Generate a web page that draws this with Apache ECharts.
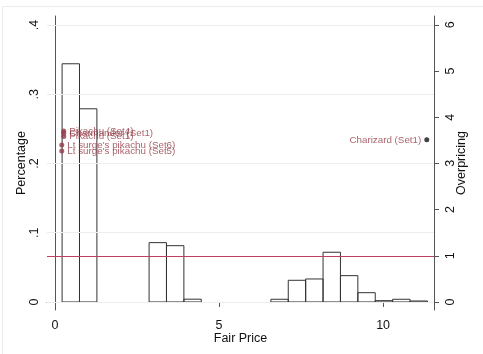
<!DOCTYPE html>
<html>
<head>
    <meta charset="utf-8">
    <title>Fair Price</title>
    <script src="https://cdn.jsdelivr.net/npm/echarts@6/dist/echarts.min.js"></script>
    <style type="text/css">
        body { margin: 0; background: #fff; }
        #main { width: 483px; height: 354px; }
    </style>
</head>
<body>
    <div id="main"></div>

    <script type="text/javascript">
        // histogram of fair price (percent per bin)
        var binWidth = 0.53;
        var binLeft = [0.22, 0.75, 2.87, 3.40, 3.93, 6.58, 7.11, 7.64, 8.17, 8.70, 9.23, 9.76, 10.29, 10.82];
        var binPct  = [0.344, 0.279, 0.0857, 0.0813, 0.004, 0.0039, 0.0313, 0.0332, 0.0718, 0.038, 0.0134, 0.0019, 0.0039, 0.0014];

        // overpricing points
        var ptNames = ['Pikachu (Set4)', 'Charmander (Set1)', 'Pikachu (Set1)', "Lt surge's pikachu (Set6)", "Lt surge's pikachu (Set5)", 'Charizard (Set1)'];
        var ptX = [0.27, 0.27, 0.27, 0.21, 0.21, 11.33];
        var ptY = [3.70, 3.65, 3.58, 3.40, 3.27, 3.51];

        var pctTicks = [0, 0.1, 0.2, 0.3, 0.4];
        var pctLabels = ['0', '.1', '.2', '.3', '.4'];
        var overTicks = [0, 1, 2, 3, 4, 5, 6];
        var xTicks = [0, 5, 10];
        var refLine = 1;

        var font = 'Liberation Sans, Arial, sans-serif';
        var red = '#923a45';
        var lineRed = '#c23d62';

        var histData = [];
        for (var i = 0; i < binLeft.length; i++) {
            histData.push([binLeft[i], binLeft[i] + binWidth, binPct[i]]);
        }
        var ptData = [];
        for (var j = 0; j < ptNames.length; j++) {
            ptData.push({
                name: ptNames[j],
                value: [ptX[j], ptY[j]],
                itemStyle: { color: j == 5 ? '#111' : red },
                label: { position: j == 5 ? 'left' : 'right' }
            });
        }

        var chart = echarts.init(document.getElementById('main'));

        var axisLine = { show: true, lineStyle: { color: '#555', width: 1 } };

        var option = {
            animation: false,
            textStyle: { fontFamily: font },
            graphic: [{
                type: 'rect', left: 0, top: 4,
                shape: { width: 482, height: 349 },
                style: { fill: 'none', stroke: '#ececec', lineWidth: 1 },
                silent: true
            }],
            grid: { left: 47, right: 49, top: 16, bottom: 44 },
            xAxis: {
                type: 'value', min: -0.24, max: 11.55,
                axisLine: axisLine,
                axisTick: { show: true, length: 5, customValues: xTicks, lineStyle: { color: '#555' } },
                axisLabel: { customValues: xTicks, fontSize: 12.5, color: '#111', margin: 9 },
                splitLine: { show: false },
                name: 'Fair Price', nameLocation: 'middle', nameGap: 22, nameMoveOverlap: false,
                nameTextStyle: { fontSize: 12.5, color: '#111' }
            },
            yAxis: [{
                type: 'value', min: -0.0116, max: 0.413,
                axisLine: axisLine,
                axisTick: { show: true, length: 5, customValues: pctTicks, lineStyle: { color: '#555' } },
                axisLabel: {
                    customValues: pctTicks, rotate: 90, fontSize: 12.5, color: '#111', margin: 6,
                    formatter: function (v) {
                        var k = pctTicks.indexOf(Math.round(v * 10) / 10);
                        return k >= 0 ? pctLabels[k] : '';
                    }
                },
                splitLine: { show: false },
                name: 'Percentage', nameLocation: 'middle', nameRotate: 90, nameGap: 19, nameMoveOverlap: false,
                nameTextStyle: { fontSize: 12.5, color: '#111' }
            }, {
                type: 'value', min: -0.173, max: 6.19, position: 'right',
                axisLine: axisLine,
                axisTick: { show: true, length: 5, customValues: overTicks, lineStyle: { color: '#555' } },
                axisLabel: { customValues: overTicks, rotate: 90, fontSize: 12.5, color: '#111', margin: 10 },
                splitLine: { show: false },
                name: 'Overpricing', nameLocation: 'middle', nameRotate: 90, nameGap: 21, nameMoveOverlap: false,
                nameTextStyle: { fontSize: 12.5, color: '#111' }
            }],
            series: [{
                type: 'custom',
                data: histData,
                encode: { x: [0, 1], y: 2 },
                renderItem: function (params, api) {
                    var p0 = api.coord([api.value(0), 0]);
                    var p1 = api.coord([api.value(1), api.value(2)]);
                    return {
                        type: 'rect',
                        shape: { x: p0[0], y: p1[1], width: p1[0] - p0[0], height: p0[1] - p1[1] },
                        style: { fill: 'none', stroke: '#333', lineWidth: 1 }
                    };
                },
                markLine: {
                    silent: true, symbol: 'none', label: { show: false },
                    lineStyle: { color: '#ededed', width: 1, type: 'solid' },
                    data: pctTicks.map(function (v) { return { yAxis: v }; })
                },
                z: 2
            }, {
                type: 'line',
                yAxisIndex: 1,
                data: [],
                markLine: {
                    silent: true, symbol: 'none', label: { show: false },
                    lineStyle: { color: lineRed, width: 1.2, type: 'solid' },
                    data: [{ yAxis: refLine, lineStyle: { color: lineRed } }]
                },
                z: 3
            }, {
                type: 'scatter',
                yAxisIndex: 1,
                symbolSize: 5,
                data: ptData,
                label: {
                    show: true, formatter: '{b}', fontSize: 9.8, color: red, distance: 3
                },
                z: 4
            }]
        };
        chart.setOption(option);
    </script>
</body>
</html>
